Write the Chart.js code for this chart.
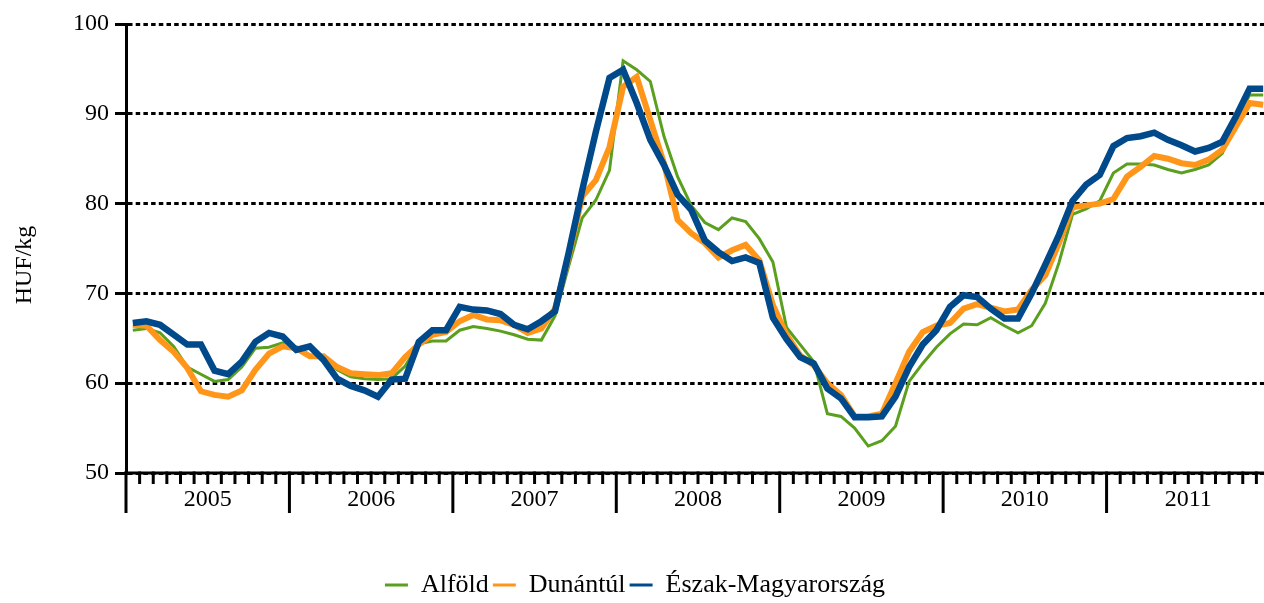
<!DOCTYPE html>
<html>
<head>
<meta charset="utf-8">
<script src="https://cdn.jsdelivr.net/npm/chart.js@4.4.1/dist/chart.umd.min.js"></script>
<style>
html,body{margin:0;padding:0;background:#fff;overflow:hidden}
#wrap{width:1264px;height:603px;overflow:hidden;position:relative}
canvas{display:block}
</style>
</head>
<body>
<div id="wrap"><canvas id="c" width="1270" height="603"></canvas></div>
<script>
const years = ['2005', '2006', '2007', '2008', '2009', '2010', '2011'];
const monthCodes = ['01','02','03','04','05','06','07','08','09','10','11','12'];
const categories = years.flatMap(y => monthCodes.map(m => y + '-' + m));
const yTicks = [50, 60, 70, 80, 90, 100];
const seriesNames = ['Alföld', 'Dunántúl', 'Észak-Magyarország'];
const yTitle = 'HUF/kg';

const alfold = [
  65.9, 66.1, 65.6, 64.1, 61.8, 61.0, 60.2, 60.4, 61.8, 63.9, 64.0, 64.5,
  63.7, 64.1, 62.8, 61.5, 60.7, 60.5, 60.4, 60.5, 61.9, 64.4, 64.7, 64.7,
  65.9, 66.3, 66.1, 65.8, 65.4, 64.9, 64.8, 67.5, 73.0, 78.4, 80.4, 83.7,
  95.9, 94.9, 93.6, 87.5, 83.0, 79.8, 77.9, 77.1, 78.4, 78.0, 76.1, 73.5,
  66.2, 64.3, 62.4, 56.6, 56.3, 55.0, 53.0, 53.6, 55.2, 60.2, 62.2, 64.0,
  65.5, 66.6, 66.5, 67.3, 66.4, 65.6, 66.4, 68.9, 73.4, 78.8, 79.4, 80.3,
  83.4, 84.4, 84.4, 84.3, 83.8, 83.4, 83.8, 84.3, 85.6, 88.9, 92.1, 92.1
];
const dunantul = [
  66.5, 66.4, 64.8, 63.5, 61.7, 59.1, 58.7, 58.5, 59.2, 61.5, 63.3, 64.1,
  63.9, 63.0, 63.0, 61.8, 61.1, 61.0, 60.9, 61.1, 62.9, 64.3, 65.4, 65.7,
  66.9, 67.6, 67.1, 67.0, 66.5, 65.6, 66.1, 68.3, 74.1, 80.8, 82.6, 86.3,
  93.0, 94.1, 89.3, 84.5, 78.2, 76.7, 75.6, 74.0, 74.8, 75.4, 73.7, 68.7,
  65.4, 63.1, 62.0, 60.0, 58.7, 56.3, 56.3, 56.6, 60.0, 63.5, 65.7, 66.4,
  66.7, 68.3, 68.8, 68.4, 68.0, 68.2, 70.4, 72.0, 75.6, 79.6, 79.8, 80.0,
  80.5, 83.0, 84.1, 85.3, 85.0, 84.5, 84.3, 84.9, 86.0, 88.6, 91.2, 91.0
];
const eszak = [
  66.7, 66.9, 66.5, 65.4, 64.3, 64.3, 61.4, 61.0, 62.4, 64.6, 65.6, 65.2,
  63.7, 64.1, 62.6, 60.5, 59.7, 59.2, 58.5, 60.4, 60.5, 64.6, 65.9, 65.9,
  68.5, 68.2, 68.1, 67.7, 66.5, 66.0, 66.9, 68.0, 74.5, 81.5, 88.0, 94.0,
  94.9, 91.2, 87.1, 84.3, 81.0, 79.3, 75.9, 74.6, 73.6, 74.0, 73.4, 67.3,
  64.9, 62.9, 62.2, 59.4, 58.3, 56.2, 56.2, 56.3, 58.5, 61.8, 64.3, 65.9,
  68.5, 69.8, 69.6, 68.3, 67.2, 67.2, 70.0, 73.2, 76.5, 80.3, 82.1, 83.2,
  86.4, 87.3, 87.5, 87.9, 87.1, 86.5, 85.8, 86.2, 86.9, 89.7, 92.8, 92.8
];

const FONT = "'Liberation Serif', 'Times New Roman', serif";
Chart.defaults.font.family = FONT;
Chart.defaults.font.size = 24;
Chart.defaults.color = '#000';

const axisPlugin = {
  id: 'customAxis',
  afterDraw(chart) {
    const ctx = chart.ctx, xs = chart.scales.x, area = chart.chartArea;
    const yb = area.bottom;
    ctx.save();
    ctx.strokeStyle = '#000';
    ctx.lineWidth = 3;
    ctx.lineCap = 'butt';
    ctx.beginPath();
    ctx.moveTo(area.left - 1.5, yb);
    ctx.lineTo(chart.width, yb);
    ctx.stroke();
    for (let k = 0; k <= categories.length; k++) {
      const px = xs.getPixelForValue(k - 0.5);
      const len = (k % 12 === 0) ? 40 : 11;
      ctx.beginPath();
      ctx.moveTo(px, yb - 1.5);
      ctx.lineTo(px, yb + len);
      ctx.stroke();
    }
    ctx.fillStyle = '#000';
    ctx.font = '24px ' + FONT;
    ctx.textAlign = 'center';
    ctx.textBaseline = 'middle';
    years.forEach((y, j) => ctx.fillText(y, xs.getPixelForValue(j * 12 + 5.5), yb + 27));
    ctx.translate(25, 265);
    ctx.rotate(-Math.PI / 2);
    ctx.fillText(yTitle, 0, 0);
    ctx.restore();
  }
};

const colors = ['#5b9f1f', '#ff9619', '#004a8b'];
const widths = [3, 6, 6.5];
const orders = [2, 1, 0];
const seriesData = [alfold, dunantul, eszak];

new Chart(document.getElementById('c'), {
  type: 'line',
  data: {
    labels: categories,
    datasets: seriesNames.map((name, i) => ({
      label: name,
      data: seriesData[i],
      borderColor: colors[i],
      backgroundColor: colors[i],
      borderWidth: widths[i],
      pointRadius: 0,
      pointHoverRadius: 0,
      tension: 0,
      fill: false,
      order: orders[i],
      borderJoinStyle: 'miter'
    }))
  },
  options: {
    responsive: false,
    animation: false,
    devicePixelRatio: 1,
    events: [],
    layout: { padding: { top: 24, bottom: -5, left: 0, right: 0 } },
    plugins: {
      tooltip: { enabled: false },
      legend: {
        position: 'bottom',
        labels: {
          font: { size: 26, family: FONT },
          color: '#000',
          boxWidth: 23,
          boxHeight: 3,
          padding: 4,
          sort: (a, b) => a.datasetIndex - b.datasetIndex,
          generateLabels: (chart) => Chart.defaults.plugins.legend.labels.generateLabels(chart)
            .map(l => Object.assign(l, { lineWidth: 0 }))
        }
      }
    },
    scales: {
      x: {
        type: 'category',
        offset: true,
        ticks: { display: false },
        grid: { display: false },
        border: { display: false },
        afterFit: (s) => { s.height = 95; }
      },
      y: {
        min: yTicks[0],
        max: yTicks[yTicks.length - 1],
        afterBuildTicks: (s) => { s.ticks = yTicks.map(v => ({ value: v })); },
        afterFit: (s) => { s.width = 126; },
        ticks: { padding: 6, color: '#000', font: { size: 24, family: FONT } },
        grid: {
          color: '#000',
          lineWidth: 3,
          tickLength: 11,
          tickColor: '#000',
          tickWidth: 3,
          tickBorderDash: []
        },
        border: { display: true, color: '#000', width: 3, dash: [4.5, 3.2] }
      }
    }
  },
  plugins: [axisPlugin]
});
</script>
</body>
</html>
